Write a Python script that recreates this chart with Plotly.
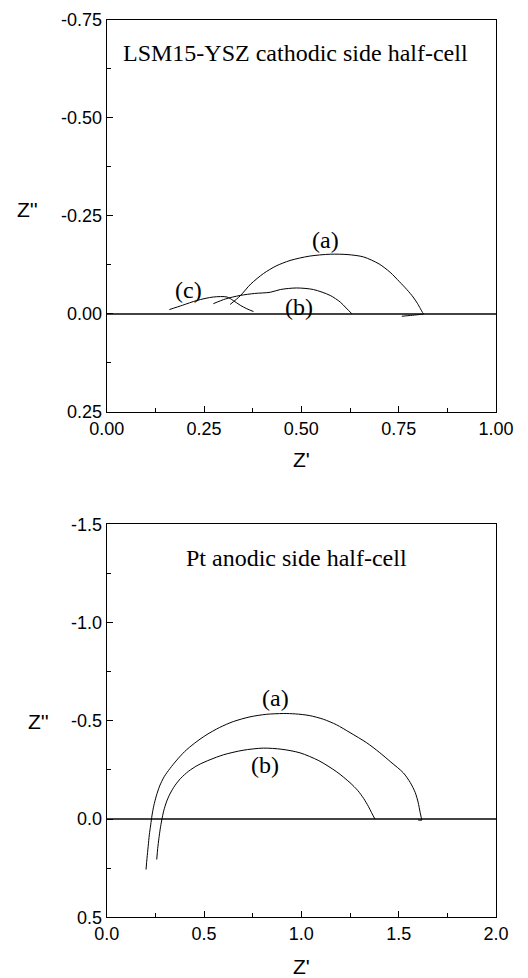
import plotly.graph_objects as go

# ---- Top panel: LSM15-YSZ cathodic side half-cell ----
top_a_x = [0.317, 0.343, 0.37, 0.403, 0.435, 0.471, 0.52, 0.574, 0.62, 0.66, 0.70, 0.728, 0.752, 0.771, 0.787, 0.798, 0.806, 0.811, 0.814, 0.80, 0.78, 0.758]
top_a_y = [-0.024, -0.046, -0.076, -0.103, -0.122, -0.136, -0.147, -0.152, -0.151, -0.145, -0.127, -0.106, -0.082, -0.062, -0.043, -0.027, -0.013, -0.004, 0.0, 0.002, 0.004, 0.006]

top_b_x = [0.274, 0.305, 0.343, 0.38, 0.42, 0.446, 0.488, 0.531, 0.574, 0.6, 0.615, 0.63]
top_b_y = [-0.026, -0.038, -0.047, -0.052, -0.055, -0.062, -0.066, -0.062, -0.047, -0.03, -0.015, 0.0]

top_c_x = [0.161, 0.195, 0.231, 0.274, 0.309, 0.325, 0.343, 0.36, 0.377]
top_c_y = [-0.011, -0.022, -0.034, -0.043, -0.043, -0.034, -0.022, -0.013, -0.006]

# ---- Bottom panel: Pt anodic side half-cell ----
bot_a_x = [0.202, 0.207, 0.213, 0.219, 0.226, 0.233, 0.242, 0.255, 0.272, 0.295, 0.325, 0.36, 0.40, 0.45, 0.51, 0.58, 0.65, 0.736, 0.82, 0.907, 0.97, 1.04, 1.113, 1.18, 1.25, 1.336, 1.40, 1.46, 1.524, 1.56, 1.585, 1.60, 1.61, 1.618, 1.62, 1.60]
bot_a_y = [0.257, 0.20, 0.14, 0.08, 0.03, -0.02, -0.068, -0.118, -0.168, -0.215, -0.257, -0.30, -0.343, -0.385, -0.427, -0.466, -0.496, -0.52, -0.533, -0.537, -0.535, -0.527, -0.508, -0.48, -0.44, -0.388, -0.34, -0.29, -0.235, -0.185, -0.135, -0.085, -0.035, 0.0, 0.005, 0.005]

bot_b_x = [0.257, 0.262, 0.268, 0.275, 0.283, 0.293, 0.307, 0.325, 0.35, 0.38, 0.42, 0.47, 0.531, 0.6, 0.7, 0.805, 0.9, 0.993, 1.09, 1.182, 1.25, 1.29, 1.32, 1.344, 1.361, 1.378]
bot_b_y = [0.206, 0.15, 0.10, 0.05, 0.005, -0.042, -0.087, -0.128, -0.17, -0.207, -0.243, -0.275, -0.302, -0.327, -0.35, -0.361, -0.355, -0.337, -0.297, -0.24, -0.185, -0.145, -0.105, -0.065, -0.032, 0.0]

top_yticks = [-0.75, -0.50, -0.25, 0.00, 0.25]
top_ylabels = ["-0.75", "-0.50", "-0.25", "0.00", "0.25"]
top_xticks = [0.0, 0.25, 0.5, 0.75, 1.0]
top_xlabels = ["0.00", "0.25", "0.50", "0.75", "1.00"]
bot_yticks = [-1.5, -1.0, -0.5, 0.0, 0.5]
bot_ylabels = ["-1.5", "-1.0", "-0.5", "0.0", "0.5"]
bot_xticks = [0.0, 0.5, 1.0, 1.5, 2.0]
bot_xlabels = ["0.0", "0.5", "1.0", "1.5", "2.0"]

W, H = 528, 978
x_dom = [106.7 / W, 496 / W]
top_dom = [1 - 412 / H, 1 - 19.5 / H]
bot_dom = [1 - 917.3 / H, 1 - 524.3 / H]

fig = go.Figure()
for xs, ys in [(top_a_x, top_a_y), (top_b_x, top_b_y), (top_c_x, top_c_y)]:
    fig.add_trace(go.Scatter(x=xs, y=ys, mode="lines", line=dict(color="black", width=1, shape="spline", smoothing=0.8),
                             xaxis="x", yaxis="y", showlegend=False, hoverinfo="skip"))
for xs, ys in [(bot_a_x, bot_a_y), (bot_b_x, bot_b_y)]:
    fig.add_trace(go.Scatter(x=xs, y=ys, mode="lines", line=dict(color="black", width=1, shape="spline", smoothing=0.8),
                             xaxis="x2", yaxis="y2", showlegend=False, hoverinfo="skip"))

tickfont = dict(family="Liberation Sans, Arial, sans-serif", size=18, color="black")
common = dict(showline=True, linecolor="black", linewidth=1, mirror=True, ticks="inside", ticklen=6, tickcolor="black",
              showgrid=False, tickfont=tickfont, automargin=False)

def minor(d):
    return dict(ticks="inside", dtick=d, tick0=0, ticklen=4, tickcolor="black", showgrid=False)

fig.update_layout(
    template="none",
    width=W, height=H, margin=dict(l=0, r=0, t=0, b=0, autoexpand=False),
    plot_bgcolor="white", paper_bgcolor="white", showlegend=False,
    xaxis=dict(domain=x_dom, anchor="y", range=[0, 1], tickmode="array", tickvals=top_xticks, ticktext=top_xlabels,
               zeroline=False, minor=minor(0.125), **common),
    yaxis=dict(domain=top_dom, anchor="x", range=[0.25, -0.75], tickmode="array", tickvals=top_yticks, ticktext=top_ylabels,
               zeroline=True, zerolinecolor="#444", zerolinewidth=1.5, minor=minor(0.125), **common),
    xaxis2=dict(domain=x_dom, anchor="y2", range=[0, 2], tickmode="array", tickvals=bot_xticks, ticktext=bot_xlabels,
                zeroline=False, minor=minor(0.25), **common),
    yaxis2=dict(domain=bot_dom, anchor="x2", range=[0.5, -1.5], tickmode="array", tickvals=bot_yticks, ticktext=bot_ylabels,
                zeroline=True, zerolinecolor="#444", zerolinewidth=1.5, minor=minor(0.25), **common),
)

serif = dict(family="Liberation Serif, Times New Roman, serif", size=24, color="black")
sans = dict(family="Liberation Sans, Arial, sans-serif", size=21, color="black")
ann = [
    dict(x=0.485, y=-0.665, xref="x", yref="y", text="LSM15-YSZ cathodic side half-cell", font=serif),
    dict(x=0.562, y=-0.187, xref="x", yref="y", text="(a)", font=serif),
    dict(x=0.493, y=-0.017, xref="x", yref="y", text="(b)", font=serif),
    dict(x=0.21, y=-0.062, xref="x", yref="y", text="(c)", font=serif),
    dict(x=0.975, y=-1.329, xref="x2", yref="y2", text="Pt anodic side half-cell", font=serif),
    dict(x=0.865, y=-0.617, xref="x2", yref="y2", text="(a)", font=serif),
    dict(x=0.813, y=-0.277, xref="x2", yref="y2", text="(b)", font=serif),
    dict(x=0.5, y=-0.122, xref="x domain", yref="y domain", text="Z'", font=sans),
    dict(x=0.5, y=-0.126, xref="x2 domain", yref="y2 domain", text="Z'", font=sans),
    dict(x=-0.204, y=0.515, xref="x domain", yref="y domain", text="Z''", font=sans),
    dict(x=-0.174, y=0.498, xref="x2 domain", yref="y2 domain", text="Z''", font=sans),
]
for a in ann:
    fig.add_annotation(showarrow=False, xanchor="center", yanchor="middle", **a)

fig.write_html("out.html")
